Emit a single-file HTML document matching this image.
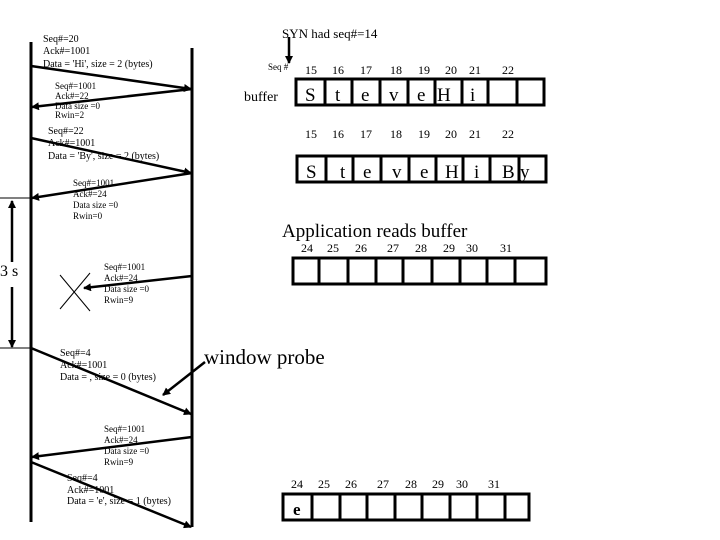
<!DOCTYPE html>
<html><head><style>body{margin:0;background:#fff}svg{display:block}text{font-family:"Liberation Serif",serif;fill:#000}</style></head><body>
<svg width="720" height="540" viewBox="0 0 720 540" xmlns="http://www.w3.org/2000/svg">
<defs><marker id="a" markerWidth="8" markerHeight="8" refX="7" refY="4" orient="auto" markerUnits="userSpaceOnUse"><path d="M0,0L8,4L0,8z"/></marker></defs>
<g stroke="#000" stroke-width="3">
<line x1="31" y1="42" x2="31" y2="522"/>
<line x1="192" y1="48" x2="192" y2="527"/>
</g>
<g stroke="#000" stroke-width="2.5" marker-end="url(#a)">
<line x1="31" y1="66" x2="191" y2="89"/>
<line x1="192" y1="89" x2="32" y2="107"/>
<line x1="31" y1="138" x2="191" y2="173"/>
<line x1="192" y1="173" x2="32" y2="198"/>
<line x1="192" y1="276" x2="84" y2="288"/>
<line x1="31" y1="348" x2="191" y2="414"/>
<line x1="205" y1="362" x2="163" y2="395"/>
<line x1="192" y1="437" x2="32" y2="457"/>
<line x1="31" y1="462" x2="191" y2="527"/>
<line x1="12" y1="262" x2="12" y2="201"/>
<line x1="12" y1="287" x2="12" y2="347"/>
<line x1="289" y1="37" x2="289" y2="63"/>
</g>
<g stroke="#000" stroke-width="1">
<line x1="0" y1="198" x2="31" y2="198"/>
<line x1="0" y1="348" x2="31" y2="348"/>
<line x1="60" y1="275" x2="90" y2="311"/>
<line x1="90" y1="273" x2="60" y2="309"/>
</g>
<g font-size="10">
<text x="43" y="42">Seq#=20</text><text x="43" y="54">Ack#=1001</text><text x="43" y="67">Data = 'Hi', size = 2 (bytes)</text>
<text x="48" y="134">Seq#=22</text><text x="48" y="146">Ack#=1001</text><text x="48" y="159">Data = 'By', size = 2 (bytes)</text>
<text x="60" y="356">Seq#=4</text><text x="60" y="368">Ack#=1001</text><text x="60" y="380">Data = , size = 0 (bytes)</text>
<text x="67" y="481">Seq#=4</text><text x="67" y="493">Ack#=1001</text><text x="67" y="504">Data = 'e', size = 1 (bytes)</text>
</g>
<g font-size="9">
<text x="55" y="89">Seq#=1001</text><text x="55" y="99">Ack#=22</text><text x="55" y="109">Data size =0</text><text x="55" y="118">Rwin=2</text>
<text x="73" y="186">Seq#=1001</text><text x="73" y="197">Ack#=24</text><text x="73" y="208">Data size =0</text><text x="73" y="219">Rwin=0</text>
<text x="104" y="270">Seq#=1001</text><text x="104" y="281">Ack#=24</text><text x="104" y="292">Data size =0</text><text x="104" y="303">Rwin=9</text>
<text x="104" y="432">Seq#=1001</text><text x="104" y="443">Ack#=24</text><text x="104" y="454">Data size =0</text><text x="104" y="465">Rwin=9</text>
<text x="268" y="70">Seq #</text>
</g>
<text x="0" y="276" font-size="16">3 s</text>
<text x="282" y="38" font-size="13">SYN had seq#=14</text>
<text x="244" y="101" font-size="14">buffer</text>
<text x="282" y="237" font-size="19">Application reads buffer</text>
<text x="204" y="364" font-size="21">window probe</text>
<g font-size="12">
<text x="305" y="74">15</text><text x="332" y="74">16</text><text x="360" y="74">17</text><text x="390" y="74">18</text><text x="418" y="74">19</text><text x="445" y="74">20</text><text x="469" y="74">21</text><text x="502" y="74">22</text>
<text x="305" y="138">15</text><text x="332" y="138">16</text><text x="360" y="138">17</text><text x="390" y="138">18</text><text x="418" y="138">19</text><text x="445" y="138">20</text><text x="469" y="138">21</text><text x="502" y="138">22</text>
<text x="301" y="252">24</text><text x="327" y="252">25</text><text x="355" y="252">26</text><text x="387" y="252">27</text><text x="415" y="252">28</text><text x="443" y="252">29</text><text x="466" y="252">30</text><text x="500" y="252">31</text>
<text x="291" y="488">24</text><text x="318" y="488">25</text><text x="345" y="488">26</text><text x="377" y="488">27</text><text x="405" y="488">28</text><text x="432" y="488">29</text><text x="456" y="488">30</text><text x="488" y="488">31</text>
</g>
<g fill="none" stroke="#000" stroke-width="3">
<rect x="296" y="79" width="248" height="26"/>
<path d="M325 79V105M352 79V105M380 79V105M408 79V105M435 79V105M462 79V105M488 79V105M517 79V105"/>
<rect x="297" y="156" width="249" height="26"/>
<path d="M326 156V182M353 156V182M381 156V182M409 156V182M436 156V182M463 156V182M490 156V182M519 156V182"/>
<rect x="293" y="258" width="253" height="26"/>
<path d="M319 258V284M348 258V284M376 258V284M403 258V284M432 258V284M460 258V284M487 258V284M515 258V284"/>
<rect x="283" y="494" width="246" height="26"/>
<path d="M312 494V520M340 494V520M367 494V520M395 494V520M422 494V520M450 494V520M477 494V520M505 494V520"/>
</g>
<g font-size="19">
<text x="305" y="101">S</text><text x="335" y="101">t</text><text x="361" y="101">e</text><text x="389" y="101">v</text><text x="417" y="101">e</text><text x="437" y="101">H</text><text x="470" y="101">i</text>
<text x="306" y="178">S</text><text x="340" y="178">t</text><text x="363" y="178">e</text><text x="392" y="178">v</text><text x="420" y="178">e</text><text x="445" y="178">H</text><text x="474" y="178">i</text><text x="502" y="178">B</text><text x="520" y="178">y</text>
<text x="293" y="515" font-weight="bold" font-size="17">e</text>
</g>
</svg>
</body></html>
